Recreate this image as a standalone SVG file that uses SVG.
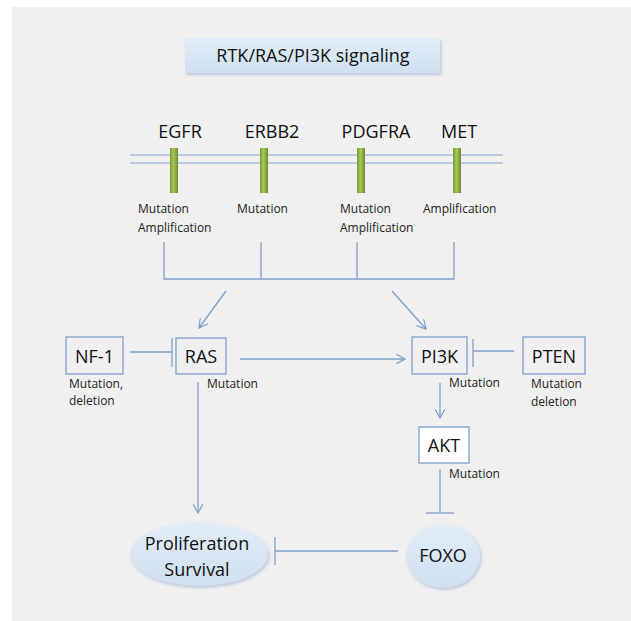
<svg xmlns="http://www.w3.org/2000/svg" width="631" height="621" viewBox="0 0 631 621">
<style>
  .ln{stroke:#7f9fcb;stroke-width:1.3;fill:none}
  .mem{stroke:#a9bfdc;stroke-width:1.5;fill:none}
  .box{fill:#f0f0f0;stroke:#7f9fcb;stroke-width:1.3}
  .bigt{font-family:"Open Sans","Liberation Sans",sans-serif;font-size:18px;fill:#111;text-anchor:middle}
  .rt{font-family:"Open Sans","Liberation Sans",sans-serif;font-size:18px;fill:#111;text-anchor:middle}
  .sm{font-family:"Open Sans","Liberation Sans",sans-serif;font-size:12px;fill:#222}
  .bar{fill:url(#grn)}
</style>
<defs>
  <marker id="arr" viewBox="0 0 10 10" refX="9" refY="5" markerWidth="10" markerHeight="10" markerUnits="userSpaceOnUse" orient="auto">
    <path d="M0,0 L9,5 L0,10" fill="none" stroke="#7f9fcb" stroke-width="1.2"/>
  </marker>
  <linearGradient id="grn" x1="0" y1="0" x2="1" y2="0">
    <stop offset="0" stop-color="#7a9a30"/>
    <stop offset="0.45" stop-color="#a8c85a"/>
    <stop offset="1" stop-color="#6a8a28"/>
  </linearGradient>
  <linearGradient id="blu" x1="0" y1="0" x2="0" y2="1">
    <stop offset="0" stop-color="#e2edf8"/>
    <stop offset="1" stop-color="#cfe0f1"/>
  </linearGradient>
  <filter id="sh" x="-20%" y="-20%" width="150%" height="160%">
    <feDropShadow dx="1.5" dy="2" stdDeviation="1.5" flood-color="#7f9fcb" flood-opacity="0.45"/>
  </filter>
</defs>
<rect x="0" y="0" width="631" height="621" fill="#ffffff"/>
<rect x="12" y="7" width="619" height="614" fill="#f0f0f0"/>

<g id="title">
  <rect x="185" y="38" width="255" height="35" fill="url(#blu)" filter="url(#sh)"/>
  <text x="313" y="62" class="bigt" font-size="17">RTK/RAS/PI3K signaling</text>
</g>

<g id="membrane">
  <line x1="130" y1="155" x2="503" y2="155" class="mem"/>
  <line x1="130" y1="163" x2="503" y2="163" class="mem"/>
</g>

<g id="EGFR">
  <rect x="170" y="148" width="8" height="45" class="bar"/>
  <text x="180" y="138" class="rt">EGFR</text>
  <text x="138" y="213" class="sm">Mutation</text>
  <text x="138" y="232" class="sm">Amplification</text>
</g>
<g id="ERBB2">
  <rect x="260" y="148" width="8" height="45" class="bar"/>
  <text x="272" y="138" class="rt">ERBB2</text>
  <text x="237" y="213" class="sm">Mutation</text>
</g>
<g id="PDGFRA">
  <rect x="357" y="148" width="8" height="45" class="bar"/>
  <text x="376" y="138" class="rt">PDGFRA</text>
  <text x="340" y="213" class="sm">Mutation</text>
  <text x="340" y="232" class="sm">Amplification</text>
</g>
<g id="MET">
  <rect x="453" y="148" width="8" height="45" class="bar"/>
  <text x="459" y="138" class="rt">MET</text>
  <text x="423" y="213" class="sm">Amplification</text>
</g>

<g id="NF1">
  <rect x="66" y="337" width="57" height="37" class="box"/>
  <text x="94.5" y="363" class="rt">NF-1</text>
  <text x="69" y="388" class="sm">Mutation,</text>
  <text x="69" y="405" class="sm">deletion</text>
</g>
<g id="RAS">
  <rect x="176" y="338" width="50" height="36" class="box"/>
  <text x="201" y="363" class="rt">RAS</text>
  <text x="207" y="388" class="sm">Mutation</text>
</g>
<g id="PI3K">
  <rect x="412" y="337" width="55" height="37" class="box"/>
  <text x="439.5" y="363" class="rt">PI3K</text>
  <text x="449" y="387" class="sm">Mutation</text>
</g>
<g id="PTEN">
  <rect x="523" y="337" width="62" height="37" class="box"/>
  <text x="554" y="363" class="rt">PTEN</text>
  <text x="531" y="388" class="sm">Mutation</text>
  <text x="531" y="406" class="sm">deletion</text>
</g>
<g id="AKT">
  <rect x="419" y="427" width="50" height="36" fill="#ffffff" stroke="#7f9fcb" stroke-width="1.3"/>
  <text x="444" y="452" class="rt">AKT</text>
  <text x="449" y="478" class="sm">Mutation</text>
</g>
<g id="Proliferation">
  <ellipse cx="199" cy="554" rx="69" ry="32" fill="url(#blu)" filter="url(#sh)"/>
  <text x="197" y="550" class="rt">Proliferation</text>
  <text x="197" y="576" class="rt">Survival</text>
</g>
<g id="FOXO">
  <ellipse cx="443" cy="556" rx="37" ry="32" fill="url(#blu)" filter="url(#sh)"/>
  <text x="443" y="562" class="rt">FOXO</text>
</g>

<g id="connectors">
  <path d="M164,242 V279 H454 V242 M261,242 V279 M357,242 V279" class="ln"/>
  <line x1="226" y1="291" x2="199" y2="328" class="ln" marker-end="url(#arr)"/>
  <line x1="392" y1="291" x2="426" y2="329" class="ln" marker-end="url(#arr)"/>
  <line x1="130" y1="352" x2="172" y2="352" class="ln"/>
  <line x1="172" y1="338" x2="172" y2="367" class="ln"/>
  <line x1="240" y1="359" x2="405" y2="359" class="ln" marker-end="url(#arr)"/>
  <line x1="514" y1="351" x2="473" y2="351" class="ln"/>
  <line x1="473" y1="339" x2="473" y2="367" class="ln"/>
  <line x1="440" y1="383" x2="440" y2="418" class="ln" marker-end="url(#arr)"/>
  <line x1="198" y1="382" x2="198" y2="513" class="ln" marker-end="url(#arr)"/>
  <line x1="440" y1="469" x2="440" y2="513" class="ln"/>
  <line x1="426" y1="513" x2="454" y2="513" class="ln"/>
  <line x1="398" y1="551" x2="275" y2="551" class="ln"/>
  <line x1="275" y1="537" x2="275" y2="565" class="ln"/>
</g>
</svg>
